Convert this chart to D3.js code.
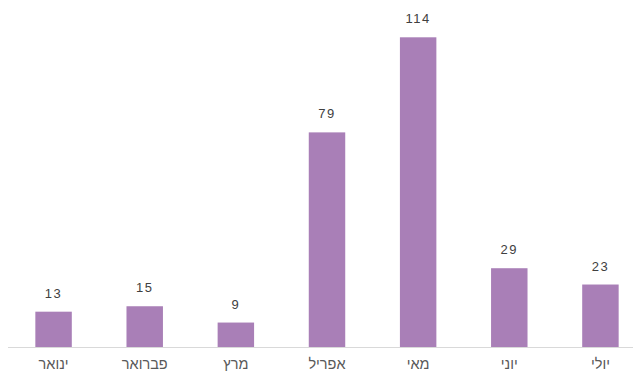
<!DOCTYPE html>
<html>
<head>
<meta charset="utf-8">
<script src="https://cdn.jsdelivr.net/npm/d3@7"></script>
<style>
  html, body { margin: 0; padding: 0; background: #fff; }
  svg { display: block; }
  text { font-family: "Liberation Sans", Arial, sans-serif; }
</style>
</head>
<body>
<svg id="chart" width="639" height="371"></svg>
<script>
// Monthly counts
const months = ["ינואר", "פברואר", "מרץ", "אפריל", "מאי", "יוני", "יולי"];
const counts = [13, 15, 9, 79, 114, 29, 23];

const width = 639, height = 371;
const baseY = 347;

const svg = d3.select("#chart");

const x = d3.scaleBand()
  .domain(months)
  .range([8, 646])
  .paddingInner(0.6)
  .paddingOuter(0.3);

const y = d3.scaleLinear()
  .domain([0, 120])
  .range([baseY, 21]);

// Bars
svg.append("g")
  .selectAll("rect")
  .data(counts)
  .join("rect")
  .attr("x", (d, i) => x(months[i]))
  .attr("y", d => y(d))
  .attr("width", x.bandwidth())
  .attr("height", d => y(0) - y(d))
  .attr("fill", "#a97fb7");

// Baseline
svg.append("line")
  .attr("x1", 8).attr("x2", 633)
  .attr("y1", y(0) + 0.5).attr("y2", y(0) + 0.5)
  .attr("stroke", "#d9d9d9")
  .attr("stroke-width", 1);

// Value labels
svg.append("g")
  .selectAll("text")
  .data(counts)
  .join("text")
  .attr("x", (d, i) => x(months[i]) + x.bandwidth() / 2)
  .attr("y", d => y(d) - 14)
  .attr("text-anchor", "middle")
  .attr("font-size", 13)
  .attr("letter-spacing", 1.5)
  .attr("fill", "#404040")
  .text(d => d);

// Category axis labels
const xAxis = d3.axisBottom(x).tickSize(0).tickPadding(12);
const gx = svg.append("g")
  .attr("transform", `translate(0,${baseY})`)
  .call(xAxis);
gx.select(".domain").remove();
gx.selectAll("text")
  .attr("font-size", 14.5)
  .attr("font-family", "\"Liberation Sans\", Arial, sans-serif")
  .attr("fill", "#595959");
</script>
</body>
</html>
